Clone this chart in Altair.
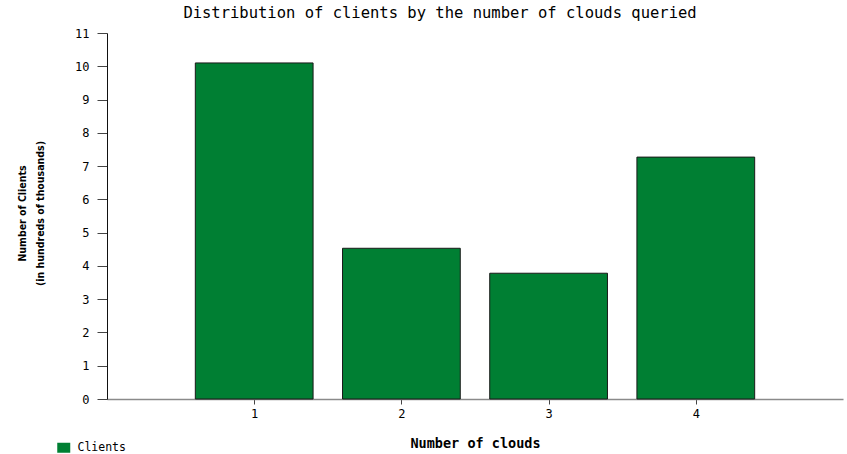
import altair as alt
import pandas as pd

# Clients (hundreds of thousands) by number of clouds queried
clouds = [1, 2, 3, 4]
clients = [10.1, 4.53, 3.78, 7.27]
series = ["Clients"] * 4

df = pd.DataFrame({"clouds": clouds, "clients": clients, "series": series})

MONO = "DejaVu Sans Mono"
GREEN = "#007f33"

bars = (
    alt.Chart(df)
    .transform_calculate(x0="datum.clouds - 0.4", x1="datum.clouds + 0.4")
    .mark_bar(stroke="#1a1a1a", strokeWidth=1)
    .encode(
        x=alt.X(
            "x0:Q",
            scale=alt.Scale(domain=[0, 5], nice=False, zero=False, padding=0),
            axis=alt.Axis(
                values=[1, 2, 3, 4],
                title="Number of clouds",
                titleFont=MONO,
                titleFontSize=13.5,
                titleFontWeight="bold",
                titleColor="#000",
                titlePadding=17,
                labelFont=MONO,
                labelFontSize=12,
                labelColor="#000",
                labelPadding=4,
                tickSize=5,
                tickColor="#444",
                domainColor="#8a8a8a",
                domainWidth=1.5,
                grid=False,
            ),
        ),
        x2="x1:Q",
        y=alt.Y(
            "clients:Q",
            scale=alt.Scale(domain=[0, 11], nice=False, padding=0),
            axis=alt.Axis(
                values=list(range(0, 12)),
                title=["Number of Clients", "(in hundreds of thousands)"],
                titleFont="DejaVu Sans Condensed",
                titleFontSize=10.5,
                titleFontWeight="bold",
                titleColor="#000",
                titleLineHeight=18,
                titleAngle=-90,
                titleAlign="center",
                titleBaseline="top",
                titleX=-90,
                titleY=180,
                labelFont=MONO,
                labelFontSize=12,
                labelColor="#000",
                labelPadding=8,
                tickSize=10,
                tickColor="#444",
                domainColor="#111",
                grid=False,
            ),
        ),
        y2=alt.datum(0),
        color=alt.Color(
            "series:N",
            scale=alt.Scale(domain=["Clients"], range=[GREEN]),
            legend=alt.Legend(
                title=None,
                orient="none",
                legendX=-49,
                legendY=409,
                symbolType="M-1.3,-1H1.3V1H-1.3Z",
                symbolSize=100,
                symbolStrokeWidth=0,
                labelFont=MONO,
                labelFontSize=11.5,
                labelColor="#000",
                labelOffset=8,
            ),
        ),
    )
)

chart = (
    bars.properties(
        width=736,
        height=366,
        title=alt.TitleParams(
            "Distribution of clients by the number of clouds queried",
            font=MONO,
            fontSize=15.5,
            fontWeight="normal",
            color="#000",
            anchor="middle",
            dx=-35,
            offset=6,
        ),
        padding={"left": 107, "top": 33, "right": 4, "bottom": 55},
        autosize=alt.AutoSizeParams(type="none"),
    )
    .configure(background="white")
    .configure_view(strokeWidth=0)
)

chart.save("out.html", embed_options={"renderer": "svg", "actions": False})
